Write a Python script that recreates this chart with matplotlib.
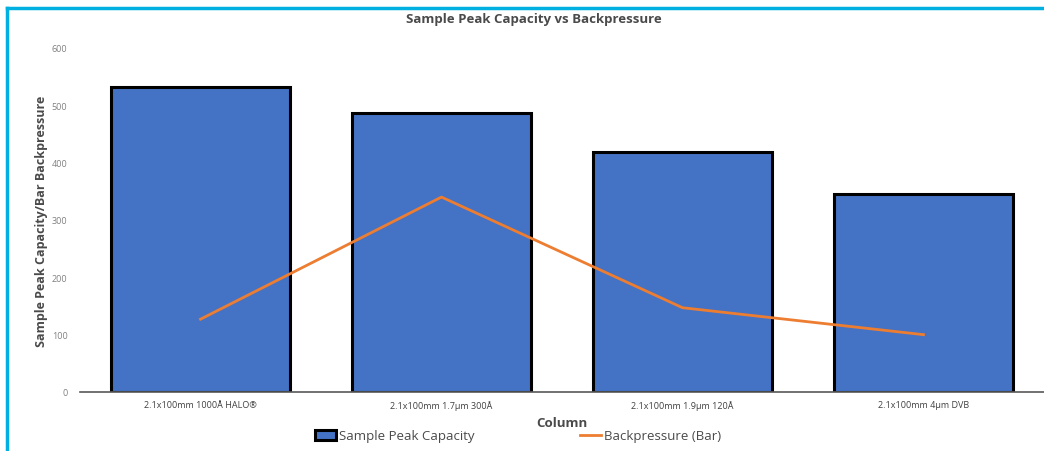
import matplotlib.pyplot as plt
from matplotlib.lines import Line2D

categories = [
    "2.1x100mm 1000Å HALO®",
    "2.1x100mm 1.7µm 300Å",
    "2.1x100mm 1.9µm 120Å",
    "2.1x100mm 4µm DVB",
]
peak_capacity = [532, 487, 419, 346]
backpressure = [127, 340, 147, 100]
y_ticks = [0, 100, 200, 300, 400, 500, 600]

plt.rcParams["font.family"] = ["Open Sans", "DejaVu Sans"]
text_color = "#4a4a4a"

fig = plt.figure(figsize=(10.44, 4.52), dpi=100)
ax = fig.add_axes([80 / 1044, 59 / 452, 964 / 1044, 344 / 452])

x = list(range(len(categories)))
bars = ax.bar(x, peak_capacity, width=0.74, color="#4472C4", edgecolor="black",
              linewidth=2.2, label="Sample Peak Capacity", zorder=2)
line, = ax.plot(x, backpressure, color="#ED7D31", linewidth=2.0,
                label="Backpressure (Bar)", zorder=3)

ax.set_xlim(-0.5, 3.5)
ax.set_ylim(0, 600)
ax.set_yticks(y_ticks)
ax.set_xticks(x)
ax.set_xticklabels(categories, fontsize=6.5, color="#404040")
ax.tick_params(axis="y", labelsize=6.5, labelcolor="#808080", length=0, pad=9)
ax.tick_params(axis="x", length=0, pad=6)
for side in ["top", "right", "left"]:
    ax.spines[side].set_visible(False)
ax.spines["bottom"].set_color("#595959")
ax.spines["bottom"].set_linewidth(1.2)

ax.set_ylabel("Sample Peak Capacity/Bar Backpressure", fontsize=9,
              fontweight="bold", color=text_color)
ax.yaxis.set_label_coords((48 - 80) / 964, 0.5)
ax.set_xlabel("Column", fontsize=9.5, fontweight="bold", color=text_color,
              labelpad=4)
fig.text(534 / 1044, 1 - 20 / 452, "Sample Peak Capacity vs Backpressure",
         ha="center", va="center", fontsize=9.5, fontweight="bold",
         color=text_color)

leg = fig.legend([bars, line], ["Sample Peak Capacity", "Backpressure (Bar)"],
                 loc="center", bbox_to_anchor=(518 / 1044, 1 - 437 / 452),
                 ncol=2, frameon=False, fontsize=9.5, handlelength=1.6,
                 handletextpad=0.2, columnspacing=8)
for t in leg.get_texts():
    t.set_color(text_color)

# cyan frame lines (left and top)
fig.add_artist(Line2D([7 / 1044, 7 / 1044], [0, 1 - 9 / 452],
                      transform=fig.transFigure, color="#00B0E0", linewidth=2.5))
fig.add_artist(Line2D([7 / 1044, 1], [1 - 9 / 452, 1 - 9 / 452],
                      transform=fig.transFigure, color="#00B0E0", linewidth=2.5))

fig.savefig("out.png", dpi=100)
